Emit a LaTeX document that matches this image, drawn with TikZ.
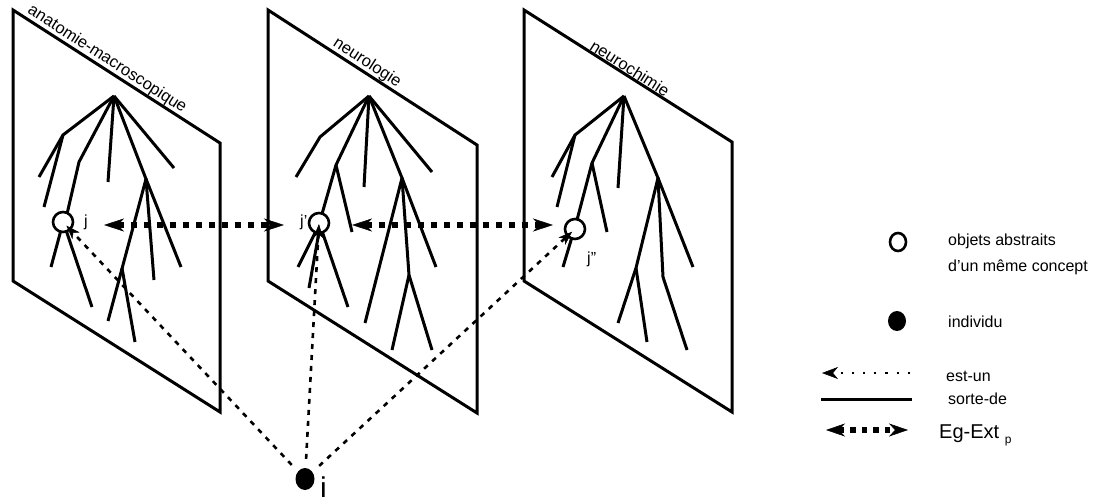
\documentclass[tikz,border=0pt]{standalone}
\usepackage{fontspec}
\setmainfont{Liberation Sans}
\usetikzlibrary{arrows.meta,shapes.geometric}
\begin{document}
\begin{tikzpicture}[x=1pt,y=-1pt,
  edge/.style={line width=3pt, line join=miter},
  branch/.style={line width=3pt},
  absobj/.style={draw, circle, minimum size=20pt, inner sep=0pt, line width=2.6pt, fill=white},
  indiv/.style={fill=black, ellipse, minimum width=19pt, minimum height=22pt, inner sep=0pt},
  estun/.style={line width=2.6pt, dash pattern=on 5pt off 6pt,
     -{Stealth[length=14pt,width=10pt,inset=4pt,line width=0.5pt]}},
  egext/.style={line width=6pt, dash pattern=on 6pt off 7pt,
     {Stealth[length=20pt,width=13pt,inset=6pt,line width=0.5pt]}-{Stealth[length=20pt,width=13pt,inset=6pt,line width=0.5pt]}},
  lbl/.style={font=\fontsize{16}{18}\selectfont, inner sep=0pt, anchor=base west},
  plabel/.style={font=\fontsize{16.5}{18}\selectfont, inner sep=1.5pt, sloped, above},
]
\useasboundingbox (0,0) rectangle (1094,497);

% panels
\coordinate (p1a) at (13,10);  \coordinate (p1b) at (220,143);
\coordinate (p1c) at (220,412); \coordinate (p1d) at (13,281);
\coordinate (p2a) at (268,10); \coordinate (p2b) at (477,145);
\coordinate (p2c) at (477,413); \coordinate (p2d) at (268,281);
\coordinate (p3a) at (524,10); \coordinate (p3b) at (732,142);
\coordinate (p3c) at (732,412); \coordinate (p3d) at (524,281);
\draw[edge] (p1a) -- (p1b) -- (p1c) -- (p1d) -- cycle;
\draw[edge] (p2a) -- (p2b) -- (p2c) -- (p2d) -- cycle;
\draw[edge] (p3a) -- (p3b) -- (p3c) -- (p3d) -- cycle;
\path (p1a) -- (p1b) node[plabel, pos=0.43] {anatomie-macroscopique};
\path (p2a) -- (p2b) node[plabel, pos=0.45] {neurologie};
\path (p3a) -- (p3b) node[plabel, pos=0.49] {neurochimie};

% tree 1
\draw[branch] (114,96) -- (63,135) -- (39,177);
\draw[branch] (63,135) -- (44,207);
\draw[branch] (114,96) -- (79,162) -- (67,214);
\draw[branch] (114,96) -- (108,182);
\draw[branch] (114,96) -- (146,179) -- (108,321);
\draw[branch] (122,268) -- (135,342);
\draw[branch] (146,179) -- (154,280);
\draw[branch] (146,179) -- (181,267);
\draw[branch] (114,96) -- (174,168);
\draw[branch] (61,230) -- (51,267);
\draw[branch] (66,230) -- (92,307);
\node[absobj] (j) at (63,222) {};

% tree 2
\draw[branch] (369,96) -- (320,137) -- (296,177);
\draw[branch] (369,96) -- (336,165) -- (322,214);
\draw[branch] (336,165) -- (352,232);
\draw[branch] (369,96) -- (364,187);
\draw[branch] (369,96) -- (402,178) -- (365,323);
\draw[branch] (402,178) -- (409,275) -- (392,350);
\draw[branch] (409,275) -- (432,350);
\draw[branch] (402,178) -- (436,267);
\draw[branch] (369,96) -- (432,172);
\draw[branch] (316,231) -- (298,267);
\draw[branch] (319,232) -- (309,288);
\draw[branch] (322,231) -- (348,307);
\node[absobj] (jp) at (319,223) {};

% tree 3
\draw[branch] (624,96) -- (575,135) -- (552,177);
\draw[branch] (575,135) -- (557,207);
\draw[branch] (624,96) -- (592,163) -- (577,220);
\draw[branch] (592,163) -- (607,232);
\draw[branch] (624,96) -- (618,188);
\draw[branch] (624,96) -- (658,178) -- (636,268) -- (618,323);
\draw[branch] (636,268) -- (647,342);
\draw[branch] (658,178) -- (663,277) -- (687,350);
\draw[branch] (658,178) -- (693,267);
\draw[branch] (572,237) -- (563,267);
\node[absobj] (jpp) at (575,229) {};

% labels j
\node[lbl] (jl) at (84,226) {j};
\node[lbl] (jpl) at (300,226) {j'};
\node[lbl] (jppl) at (587,263) {j''};

% individual
\node[indiv] (i) at (305,479) {};
\node[font=\fontsize{30}{32}\selectfont, inner sep=0pt, anchor=base west] (il) at (320,498) {i};

% est-un connectors
\draw[estun, shorten <=9pt, shorten >=5pt] (i) -- (j.center);
\draw[estun, shorten <=9pt, shorten >=1pt] (i) -- (jp.center);
\draw[estun, shorten <=9pt, shorten >=4pt] (i) -- (jpp.center);

% Eg-Ext connectors
\coordinate (e1a) at (104,225); \coordinate (e1b) at (284,225);
\coordinate (e2a) at (352,225); \coordinate (e2b) at (553,225);
\draw[egext] (e1a) -- (e1b);
\draw[egext] (e2a) -- (e2b);

% legend
\node[draw, ellipse, minimum width=16pt, minimum height=18pt, inner sep=0pt, line width=2.6pt] (lc) at (898,242) {};
\node[lbl] (lt1) at (948,245) {objets abstraits};
\node[lbl] (lt2) at (948,271) {d'un même concept};
\node[fill=black, ellipse, minimum width=18pt, minimum height=20pt, inner sep=0pt] (lf) at (897,321) {};
\node[lbl] (lt3) at (948,327) {individu};
\coordinate (la1) at (910,373); \coordinate (la2) at (822,373);
\draw[line width=2.2pt, dash pattern=on 2.2pt off 9pt,
  -{Stealth[length=16pt,width=12pt,inset=5pt,line width=0.5pt]}] (la1) -- (la2);
\node[lbl] (lt4) at (946,381) {est-un};
\coordinate (lb1) at (821,399); \coordinate (lb2) at (912,399);
\draw[line width=3pt] (lb1) -- (lb2);
\node[lbl] (lt5) at (948,404) {sorte-de};
\coordinate (lc1) at (826,430); \coordinate (lc2) at (908,430);
\draw[line width=5.5pt, dash pattern=on 5.5pt off 6pt,
  {Stealth[length=19pt,width=13pt,inset=6pt,line width=0.5pt]}-{Stealth[length=19pt,width=13pt,inset=6pt,line width=0.5pt]}] (lc1) -- (lc2);
\node[font=\fontsize{20}{22}\selectfont, inner sep=0pt, anchor=base west] (lt6) at (939,438) {Eg-Ext {\fontsize{12}{14}\selectfont\raisebox{-5pt}{p}}};
\end{tikzpicture}
\end{document}
